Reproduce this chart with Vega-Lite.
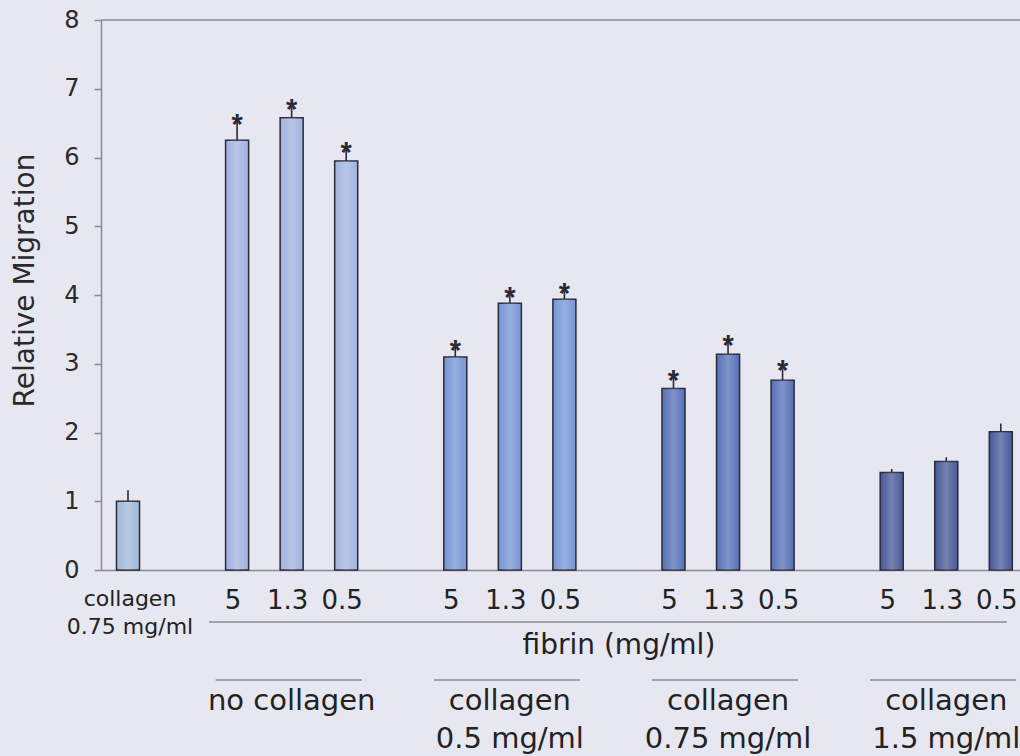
{
  "$schema": "https://vega.github.io/schema/vega-lite/v6.json",
  "width": 919,
  "height": 550,
  "autosize": "none",
  "padding": {"left": 101, "top": 20, "right": 0, "bottom": 186},
  "background": "#e7e7f1",
  "config": {
    "view": {"stroke": null},
    "font": "DejaVu Sans",
    "text": {"font": "DejaVu Sans", "color": "#222222"}
  },
  "datasets": {
    "bars": [
      {"id": "ctrl", "group": "control", "fibrin": "", "mean": 1.0, "upper": 1.16, "sig": ""},
      {"id": "nc-5", "group": "no collagen", "fibrin": "5", "mean": 6.25, "upper": 6.53, "sig": "*"},
      {"id": "nc-1.3", "group": "no collagen", "fibrin": "1.3", "mean": 6.58, "upper": 6.75, "sig": "*"},
      {"id": "nc-0.5", "group": "no collagen", "fibrin": "0.5", "mean": 5.95, "upper": 6.12, "sig": "*"},
      {"id": "c05-5", "group": "collagen 0.5", "fibrin": "5", "mean": 3.1, "upper": 3.24, "sig": "*"},
      {"id": "c05-1.3", "group": "collagen 0.5", "fibrin": "1.3", "mean": 3.88, "upper": 4.01, "sig": "*"},
      {"id": "c05-0.5", "group": "collagen 0.5", "fibrin": "0.5", "mean": 3.94, "upper": 4.08, "sig": "*"},
      {"id": "c075-5", "group": "collagen 0.75", "fibrin": "5", "mean": 2.64, "upper": 2.81, "sig": "*"},
      {"id": "c075-1.3", "group": "collagen 0.75", "fibrin": "1.3", "mean": 3.14, "upper": 3.31, "sig": "*"},
      {"id": "c075-0.5", "group": "collagen 0.75", "fibrin": "0.5", "mean": 2.76, "upper": 2.95, "sig": "*"},
      {"id": "c15-5", "group": "collagen 1.5", "fibrin": "5", "mean": 1.42, "upper": 1.47, "sig": ""},
      {"id": "c15-1.3", "group": "collagen 1.5", "fibrin": "1.3", "mean": 1.58, "upper": 1.64, "sig": ""},
      {"id": "c15-0.5", "group": "collagen 1.5", "fibrin": "0.5", "mean": 2.01, "upper": 2.13, "sig": ""}
    ],
    "groups": [
      {"mid": "nc-1.3", "line1": "no collagen", "line2": ""},
      {"mid": "c05-1.3", "line1": "collagen", "line2": "0.5 mg/ml"},
      {"mid": "c075-1.3", "line1": "collagen", "line2": "0.75 mg/ml"},
      {"mid": "c15-1.3", "line1": "collagen", "line2": "1.5 mg/ml"}
    ],
    "control": [
      {"id": "ctrl", "line1": "collagen", "line2": "0.75 mg/ml"}
    ],
    "fibrinAxis": [
      {"first": "nc-5", "last": "c15-0.5", "mid": "g3", "title": "fibrin (mg/ml)"}
    ]
  },
  "layer": [
    {
      "data": {"name": "bars"},
      "mark": {"type": "bar", "stroke": "#2a2a36", "strokeWidth": 1.5},
      "encoding": {
        "x": {
          "field": "id",
          "type": "nominal",
          "sort": null,
          "scale": {
            "domain": ["ctrl", "g1", "nc-5", "nc-1.3", "nc-0.5", "g2", "c05-5", "c05-1.3", "c05-0.5", "g3", "c075-5", "c075-1.3", "c075-0.5", "g4", "c15-5", "c15-1.3", "c15-0.5"],
            "paddingInner": 0.578,
            "paddingOuter": 0.2125,
            "align": 0.668,
            "round": false
          },
          "axis": {
            "title": null,
            "labels": false,
            "ticks": false,
            "domainColor": "#8a8a94",
            "domainWidth": 1.5
          }
        },
        "y": {
          "field": "mean",
          "type": "quantitative",
          "scale": {"domain": [0, 8], "nice": false, "zero": true},
          "axis": {
            "title": "Relative Migration",
            "titleFont": "DejaVu Sans",
            "titleFontSize": 28,
            "titleFontWeight": "normal",
            "titleColor": "#2a2a2a",
            "titleAngle": -90,
            "titleX": -76,
            "titleY": 260,
            "titleAlign": "center",
            "titleBaseline": "middle",
            "values": [0, 1, 2, 3, 4, 5, 6, 7, 8],
            "format": "d",
            "grid": false,
            "labelFont": "DejaVu Sans",
            "labelFontSize": 24,
            "labelColor": "#2a2a2a",
            "labelPadding": 15,
            "labelFlush": false,
            "tickSize": 7,
            "tickColor": "#8a8a94",
            "tickWidth": 1.5,
            "domainColor": "#8a8a94",
            "domainWidth": 1.5
          }
        },
        "color": {
          "field": "group",
          "type": "nominal",
          "legend": null,
          "scale": {
            "domain": ["control", "no collagen", "collagen 0.5", "collagen 0.75", "collagen 1.5"],
            "range": ["#9fb8d8", "#a0b3df", "#7595d6", "#5670b8", "#465898"]
          }
        }
      }
    },
    {
      "data": {"name": "bars"},
      "mark": {
        "type": "bar",
        "strokeWidth": 0,
        "fill": {
          "gradient": "linear",
          "x1": 0, "x2": 1, "y1": 0, "y2": 0,
          "stops": [
            {"offset": 0, "color": "rgba(255,255,255,0)"},
            {"offset": 0.5, "color": "rgba(255,255,255,0.25)"},
            {"offset": 1, "color": "rgba(255,255,255,0)"}
          ]
        }
      },
      "encoding": {
        "x": {"field": "id", "type": "nominal", "sort": null},
        "y": {"field": "mean", "type": "quantitative"}
      }
    },
    {
      "data": {"name": "bars"},
      "mark": {"type": "rule", "color": "#2a2a36", "strokeWidth": 1.6},
      "encoding": {
        "x": {"field": "id", "type": "nominal", "sort": null},
        "y": {"field": "mean", "type": "quantitative"},
        "y2": {"field": "upper"}
      }
    },
    {
      "data": {"name": "bars"},
      "mark": {"type": "text", "font": "Liberation Sans", "fontSize": 29, "fontWeight": "bold", "baseline": "alphabetic", "dy": 13, "color": "#2a2a36"},
      "encoding": {
        "x": {"field": "id", "type": "nominal", "sort": null},
        "y": {"field": "upper", "type": "quantitative"},
        "text": {"field": "sig"}
      }
    },
    {
      "data": {"name": "bars"},
      "mark": {"type": "text", "fontSize": 26, "baseline": "middle", "dy": 31, "dx": -4},
      "encoding": {
        "x": {"field": "id", "type": "nominal", "sort": null},
        "y": {"datum": 0},
        "text": {"field": "fibrin"}
      }
    },
    {
      "data": {"name": "control"},
      "mark": {"type": "text", "fontSize": 22, "baseline": "middle", "dy": 29, "dx": 2},
      "encoding": {
        "x": {"field": "id", "type": "nominal", "sort": null},
        "y": {"datum": 0},
        "text": {"field": "line1"}
      }
    },
    {
      "data": {"name": "control"},
      "mark": {"type": "text", "fontSize": 22, "baseline": "middle", "dy": 57, "dx": 2},
      "encoding": {
        "x": {"field": "id", "type": "nominal", "sort": null},
        "y": {"datum": 0},
        "text": {"field": "line2"}
      }
    },
    {
      "data": {"name": "fibrinAxis"},
      "mark": {"type": "rule", "color": "#8a8a94", "strokeWidth": 1.5, "yOffset": 52, "xOffset": -28, "x2Offset": 6},
      "encoding": {
        "x": {"field": "first", "type": "nominal", "sort": null},
        "x2": {"field": "last"},
        "y": {"datum": 0}
      }
    },
    {
      "data": {"name": "fibrinAxis"},
      "mark": {"type": "text", "fontSize": 28, "baseline": "middle", "dy": 76},
      "encoding": {
        "x": {"field": "mid", "type": "nominal", "sort": null},
        "y": {"datum": 0},
        "text": {"field": "title"}
      }
    },
    {
      "data": {"name": "groups"},
      "mark": {"type": "rule", "color": "#8a8a94", "strokeWidth": 1.5, "yOffset": 110, "xOffset": -76, "x2Offset": 70},
      "encoding": {
        "x": {"field": "mid", "type": "nominal", "sort": null},
        "x2": {"field": "mid"},
        "y": {"datum": 0}
      }
    },
    {
      "data": {"name": "groups"},
      "mark": {"type": "text", "fontSize": 29, "baseline": "middle", "dy": 131},
      "encoding": {
        "x": {"field": "mid", "type": "nominal", "sort": null},
        "y": {"datum": 0},
        "text": {"field": "line1"}
      }
    },
    {
      "data": {"name": "groups"},
      "mark": {"type": "text", "fontSize": 29, "baseline": "middle", "dy": 169},
      "encoding": {
        "x": {"field": "mid", "type": "nominal", "sort": null},
        "y": {"datum": 0},
        "text": {"field": "line2"}
      }
    },
    {
      "data": {"values": [{"top": 8}]},
      "mark": {"type": "rule", "color": "#8a8a94", "strokeWidth": 1.5},
      "encoding": {
        "y": {"field": "top", "type": "quantitative"}
      }
    }
  ]
}
